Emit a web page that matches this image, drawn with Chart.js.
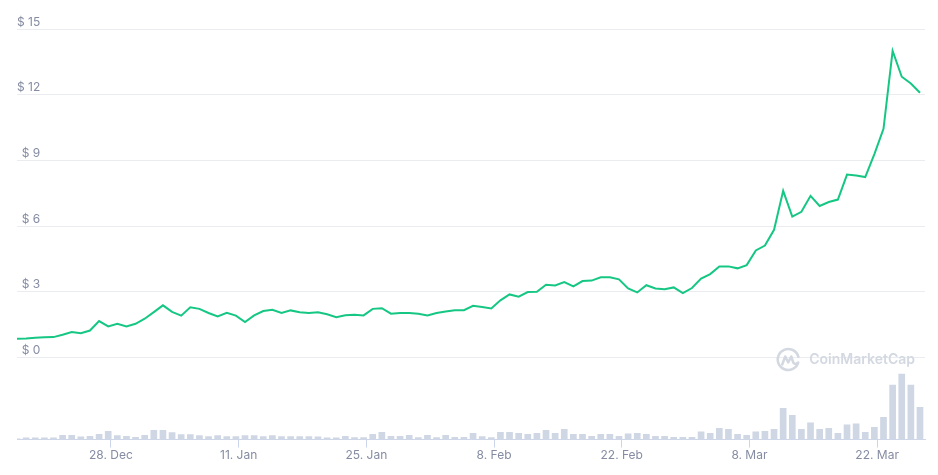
<!DOCTYPE html>
<html>
<head>
<meta charset="utf-8">
<script src="https://cdn.jsdelivr.net/npm/chart.js@4.4.0/dist/chart.umd.min.js"></script>
<style>
  html, body { margin: 0; padding: 0; background: #fff; }
  #wrap { width: 938px; height: 475px; position: relative; }
</style>
</head>
<body>
<div id="wrap"><canvas id="chart"></canvas></div>
<script>
// Daily price (USD), first point 17 Dec, last point 26 Mar
const PRICE_USD = [
    0.85, 0.87, 0.90, 0.92, 0.93, 1.04, 1.16, 1.11, 1.23, 1.66,
    1.42, 1.54, 1.42, 1.54, 1.77, 2.07, 2.38, 2.08, 1.91, 2.29,
    2.22, 2.03, 1.87, 2.04, 1.91, 1.62, 1.92, 2.12, 2.18, 2.03,
    2.15, 2.07, 2.03, 2.06, 1.97, 1.84, 1.93, 1.95, 1.92, 2.22,
    2.25, 2.00, 2.03, 2.03, 2.00, 1.92, 2.03, 2.10, 2.16, 2.16,
    2.36, 2.30, 2.24, 2.61, 2.88, 2.78, 2.99, 3.00, 3.32, 3.29,
    3.44, 3.25, 3.49, 3.51, 3.66, 3.66, 3.57, 3.15, 2.97, 3.30,
    3.15, 3.12, 3.20, 2.94, 3.17, 3.60, 3.81, 4.16, 4.16, 4.07,
    4.22, 4.89, 5.11, 5.83, 7.61, 6.43, 6.65, 7.38, 6.92, 7.10,
    7.21, 8.35, 8.31, 8.24, 9.29, 10.44, 14.00, 12.82, 12.51, 12.09
];

// Daily volume (million USD)
const VOLUME_M = [
    2, 5, 5, 5, 5, 13, 13, 8, 10, 16,
    25, 12, 10, 7, 13, 28, 28, 21, 15, 15,
    12, 9, 12, 9, 9, 12, 12, 9, 12, 9,
    9, 9, 9, 8, 5, 5, 10, 6, 6, 16,
    22, 10, 10, 13, 6, 13, 6, 13, 7, 7,
    19, 9, 6, 22, 22, 19, 16, 19, 28, 19,
    31, 16, 16, 10, 16, 16, 10, 17, 19, 16,
    10, 10, 7, 7, 7, 23, 19, 34, 31, 16,
    13, 23, 25, 31, 94, 73, 31, 50, 31, 34,
    19, 44, 47, 22, 37, 67, 163, 196, 163, 97
];

// x ticks sit at midnight, data points are taken late in the day
const X_TICK_DAYS = [10.3, 24.3, 38.3, 52.3, 66.3, 80.3, 94.3];
const X_TICK_LABELS = ['28. Dec', '11. Jan', '25. Jan', '8. Feb', '22. Feb', '8. Mar', '22. Mar'];
const PRICE_TICKS = [0, 3, 6, 9, 12, 15];

const LABEL_COLOR = '#858ca2';
const MARK_COLOR = '#d3d8e1';

Chart.defaults.font.family = 'Inter, "Open Sans", sans-serif';
Chart.defaults.font.size = 12;

// CoinMarketCap watermark
const watermark = {
    id: 'watermark',
    beforeDatasetsDraw(chart) {
        const { ctx, chartArea } = chart;
        const cy = chart.scales.y.getPixelForValue(0) + 2;
        const right = chartArea.right - 10;

        ctx.save();
        ctx.fillStyle = MARK_COLOR;
        ctx.strokeStyle = MARK_COLOR;
        ctx.font = '600 14px Inter, sans-serif';
        ctx.textAlign = 'right';
        ctx.textBaseline = 'middle';
        ctx.fillText('CoinMarketCap', right, cy);
        const w = ctx.measureText('CoinMarketCap').width;

        // logo
        const cx = right - w - 21;
        ctx.lineWidth = 2.5;
        ctx.lineCap = 'round';
        ctx.lineJoin = 'round';
        ctx.beginPath();
        ctx.arc(cx, cy, 10.5, 0.12 * Math.PI, 1.92 * Math.PI);
        ctx.stroke();
        ctx.beginPath();
        ctx.moveTo(cx - 6, cy + 5);
        ctx.lineTo(cx - 3, cy - 3);
        ctx.lineTo(cx, cy + 3);
        ctx.lineTo(cx + 3, cy - 3);
        ctx.lineTo(cx + 5, cy + 3);
        ctx.quadraticCurveTo(cx + 7, cy + 6, cx + 10, cy + 3);
        ctx.stroke();
        ctx.restore();
    }
};

new Chart(document.getElementById('chart'), {
    data: {
        datasets: [
            {
                type: 'line',
                label: 'Price',
                data: PRICE_USD.map((v, i) => ({ x: i, y: v })),
                yAxisID: 'y',
                borderColor: '#16c784',
                borderWidth: 2,
                pointRadius: 0,
                tension: 0,
                order: 0
            },
            {
                type: 'bar',
                label: 'Volume',
                data: VOLUME_M.map((v, i) => ({ x: i, y: v })),
                yAxisID: 'yVol',
                backgroundColor: '#cfd6e4',
                barThickness: 6,
                order: 1
            }
        ]
    },
    options: {
        responsive: true,
        maintainAspectRatio: false,
        animation: false,
        layout: { padding: { top: 29, left: 17, right: 13, bottom: 11 } },
        plugins: {
            legend: { display: false },
            tooltip: { enabled: false }
        },
        scales: {
            x: {
                type: 'linear',
                min: 0,
                max: 99.55,
                offset: false,
                afterBuildTicks: scale => {
                    scale.ticks = X_TICK_DAYS.map(v => ({ value: v }));
                },
                ticks: {
                    callback: (value, index) => X_TICK_LABELS[index],
                    color: LABEL_COLOR,
                    padding: 1,
                    maxRotation: 0,
                    autoSkip: false
                },
                grid: {
                    offset: false,
                    drawOnChartArea: false,
                    drawTicks: true,
                    tickLength: 8,
                    tickColor: '#ccd6eb'
                },
                border: { color: '#ccd6eb' }
            },
            y: {
                position: 'left',
                min: -3.75,
                max: 15,
                afterBuildTicks: scale => {
                    scale.ticks = PRICE_TICKS.map(v => ({ value: v }));
                },
                ticks: {
                    mirror: true,
                    crossAlign: 'far',
                    padding: 0,
                    labelOffset: -7,
                    color: LABEL_COLOR,
                    callback: v => '$ ' + v
                },
                grid: { color: '#eaecef', drawTicks: false },
                border: { display: false }
            },
            yVol: {
                display: false,
                min: 0,
                max: 1230
            }
        }
    },
    plugins: [watermark]
});
</script>
</body>
</html>
